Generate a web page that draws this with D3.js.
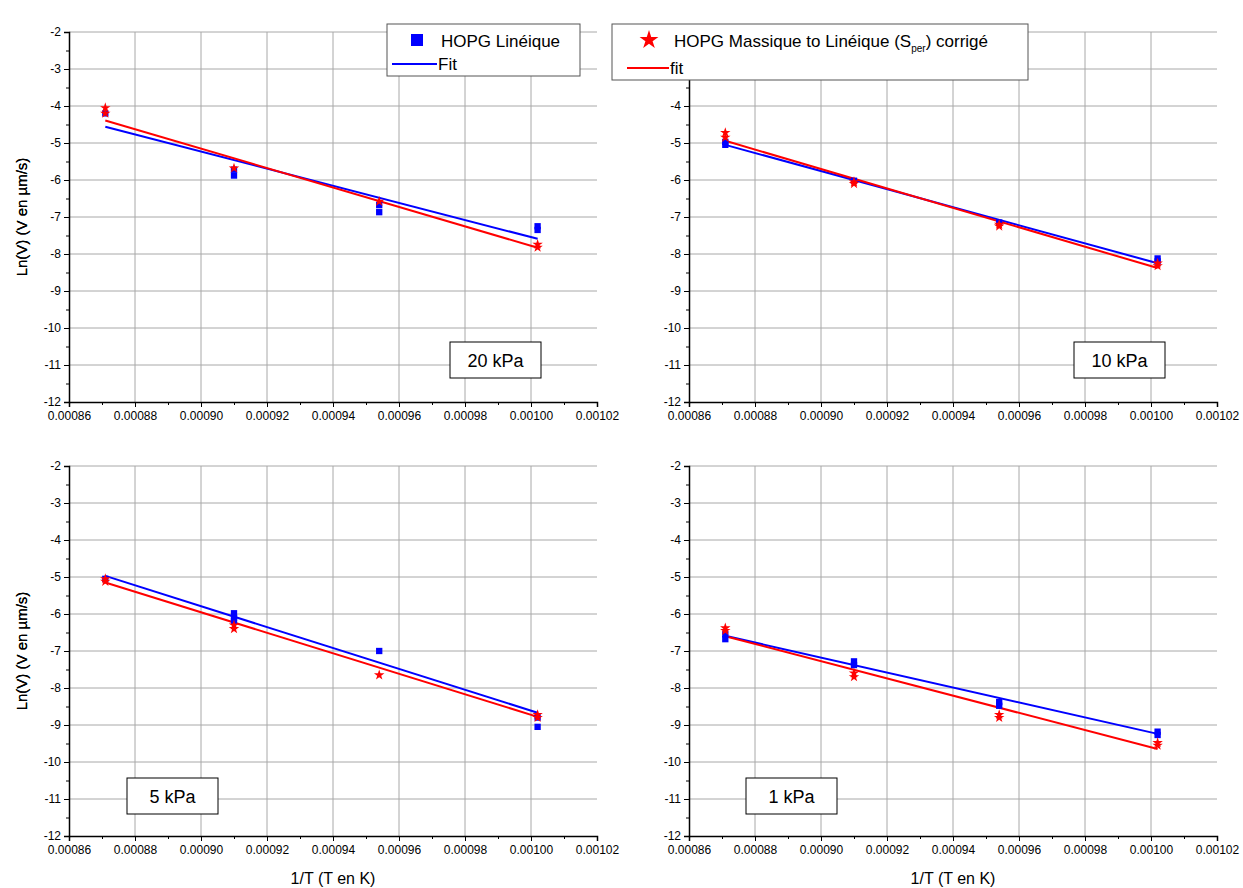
<!DOCTYPE html>
<html><head><meta charset="utf-8">
<script src="https://cdn.jsdelivr.net/npm/d3@7"></script>
<style>
body{margin:0;background:#fff;}
svg{font-family:"Liberation Sans",Arial,sans-serif;}
</style></head>
<body><svg id="c" width="1243" height="888"></svg>
<script>
// ---- data ----
const invT = [0.000871, 0.000910, 0.000954, 0.001002];
const panelLabels = ["20 kPa", "10 kPa", "5 kPa", "1 kPa"];
const xTicks = [0.00086, 0.00088, 0.00090, 0.00092, 0.00094, 0.00096, 0.00098, 0.00100, 0.00102];
const yTicks = [-2, -3, -4, -5, -6, -7, -8, -9, -10, -11, -12];
// HOPG Linéique (blue squares), several measurements per temperature
const lineique20 = [[-4.2], [-5.72, -5.88], [-6.68, -6.87], [-7.25, -7.35]];
const lineique10 = [[-4.97, -5.05], [-6.02], [-7.15], [-8.12, -8.2]];
const lineique5  = [[-5.05], [-5.98, -6.1, -6.2], [-7.0], [-8.8, -9.05]];
const lineique1  = [[-6.55, -6.68], [-7.28, -7.38], [-8.38, -8.48], [-9.18, -9.27]];
// HOPG Massique to Linéique (S_per) corrigé (red stars)
const massique20 = [[-4.05, -4.2], [-5.68], [-6.58], [-7.74, -7.82]];
const massique10 = [[-4.72, -4.85], [-6.05, -6.1], [-7.2, -7.25], [-8.25, -8.32]];
const massique5  = [[-5.05, -5.12], [-6.3, -6.4], [-7.65], [-8.72, -8.8]];
const massique1  = [[-6.38, -6.45], [-7.6, -7.7], [-8.72, -8.8], [-9.48, -9.55]];
// fit lines: value at first and last temperature
const fitLineique20 = [-4.56, -7.59];
const fitLineique10 = [-5.05, -8.25];
const fitLineique5  = [-4.97, -8.67];
const fitLineique1  = [-6.59, -9.24];
const fitMassique20 = [-4.39, -7.83];
const fitMassique10 = [-4.94, -8.38];
const fitMassique5  = [-5.15, -8.78];
const fitMassique1  = [-6.6, -9.65];

const blueSeries = [lineique20, lineique10, lineique5, lineique1];
const redSeries = [massique20, massique10, massique5, massique1];
const blueFits = [fitLineique20, fitLineique10, fitLineique5, fitLineique1];
const redFits = [fitMassique20, fitMassique10, fitMassique5, fitMassique1];

// ---- layout ----
const svg = d3.select("#c");
const BLUE = "#0000ff", RED = "#ff0000";
const boxes = [
  {x0: 69, x1: 597, y0: 32, y1: 402, lab: [450, 342], hide: []},
  {x0: 689, x1: 1217, y0: 32, y1: 402, lab: [1074, 342], hide: [-2, -3]},
  {x0: 69, x1: 597, y0: 466, y1: 836, lab: [127, 778], hide: []},
  {x0: 689, x1: 1217, y0: 466, y1: 836, lab: [746, 778], hide: []}
];
const fmt = d3.format(".5f");

boxes.forEach((b, i) => {
  const x = d3.scaleLinear().domain([0.00086, 0.00102]).range([b.x0, b.x1]);
  const y = d3.scaleLinear().domain([-12, -2]).range([b.y1, b.y0]);
  const g = svg.append("g");

  // grid
  g.append("g").selectAll("line").data(xTicks.slice(1, -1)).join("line")
    .attr("x1", d => x(d)).attr("x2", d => x(d)).attr("y1", b.y0).attr("y2", b.y1)
    .attr("stroke", "#a8a8a8").attr("stroke-width", 1);
  g.append("g").selectAll("line").data(yTicks.slice(0, -1)).join("line")
    .attr("x1", b.x0).attr("x2", b.x1).attr("y1", d => y(d)).attr("y2", d => y(d))
    .attr("stroke", "#a8a8a8").attr("stroke-width", 1);

  // axes
  const minorX = d3.range(0.00087, 0.00102, 0.00002);
  const minorY = d3.range(-11.5, -2, 1);
  const xa = g.append("g").attr("transform", `translate(0,${b.y1})`)
    .call(d3.axisBottom(x).tickValues(xTicks).tickFormat(fmt).tickSize(5).tickPadding(4));
  g.append("g").attr("transform", `translate(0,${b.y1})`)
    .call(d3.axisBottom(x).tickValues(minorX).tickFormat("").tickSize(3))
    .select(".domain").remove();
  const ya = g.append("g").attr("transform", `translate(${b.x0},0)`)
    .call(d3.axisLeft(y).tickValues(yTicks)
      .tickFormat(d => b.hide.includes(d) ? "" : String(d)).tickSize(5).tickPadding(3));
  g.append("g").attr("transform", `translate(${b.x0},0)`)
    .call(d3.axisLeft(y).tickValues(minorY).tickFormat("").tickSize(3))
    .select(".domain").remove();
  svg.selectAll(".domain").attr("stroke", "#000").attr("stroke-width", 1.5);
  xa.selectAll("text").attr("font-size", 12).attr("fill", "#000")
    .attr("font-family", "Liberation Sans, Arial, sans-serif");
  ya.selectAll("text").attr("font-size", 12).attr("fill", "#000")
    .attr("font-family", "Liberation Sans, Arial, sans-serif");
  g.selectAll(".tick line").attr("stroke", "#000");

  // fit lines
  const line = d3.line().x(d => x(d[0])).y(d => y(d[1]));
  const xEnds = [invT[0], invT[invT.length - 1]];
  g.append("path").datum(xEnds.map((v, k) => [v, blueFits[i][k]]))
    .attr("d", line).attr("fill", "none").attr("stroke", BLUE).attr("stroke-width", 2);
  g.append("path").datum(xEnds.map((v, k) => [v, redFits[i][k]]))
    .attr("d", line).attr("fill", "none").attr("stroke", RED).attr("stroke-width", 2);

  // markers
  const flat = s => s.flatMap((vals, k) => vals.map(v => [invT[k], v]));
  g.append("g").selectAll("path").data(flat(blueSeries[i])).join("path")
    .attr("transform", d => `translate(${x(d[0])},${y(d[1])})`)
    .attr("d", d3.symbol(d3.symbolSquare, 40)).attr("fill", BLUE);
  g.append("g").selectAll("path").data(flat(redSeries[i])).join("path")
    .attr("transform", d => `translate(${x(d[0])},${y(d[1])})`)
    .attr("d", d3.symbol(d3.symbolStar, 34)).attr("fill", RED);

  // pressure label
  const lg = g.append("g").attr("transform", `translate(${b.lab[0]},${b.lab[1]})`);
  lg.append("rect").attr("width", 91).attr("height", 36).attr("fill", "#fff")
    .attr("stroke", "#000").attr("stroke-width", 1);
  lg.append("text").attr("x", 45.5).attr("y", 25).attr("text-anchor", "middle")
    .attr("font-size", 18).text(panelLabels[i]);

  // axis titles
  g.append("text").attr("transform", `translate(27,${(b.y0 + b.y1) / 2}) rotate(-90)`)
    .attr("text-anchor", "middle").attr("font-size", 15).text("Ln(V) (V en µm/s)");
  if (i >= 2) {
    g.append("text").attr("x", (b.x0 + b.x1) / 2).attr("y", 884)
      .attr("text-anchor", "middle").attr("font-size", 16).text("1/T (T en K)");
  }
});

// legends
const l1 = svg.append("g");
l1.append("rect").attr("x", 387).attr("y", 24).attr("width", 193).attr("height", 52)
  .attr("fill", "#fff").attr("stroke", "#555").attr("stroke-width", 1);
l1.append("path").attr("transform", "translate(417,40)").attr("d", d3.symbol(d3.symbolSquare, 144)).attr("fill", BLUE);
l1.append("text").attr("x", 441).attr("y", 47).attr("font-size", 17).text("HOPG Linéique");
l1.append("line").attr("x1", 392).attr("x2", 437).attr("y1", 64).attr("y2", 64).attr("stroke", BLUE).attr("stroke-width", 2);
l1.append("text").attr("x", 438).attr("y", 70).attr("font-size", 17).text("Fit");

const l2 = svg.append("g");
l2.append("rect").attr("x", 612).attr("y", 24).attr("width", 416).attr("height", 56)
  .attr("fill", "#fff").attr("stroke", "#555").attr("stroke-width", 1);
l2.append("path").attr("transform", "translate(649,40)").attr("d", d3.symbol(d3.symbolStar, 110)).attr("fill", RED);
const t2 = l2.append("text").attr("x", 674).attr("y", 47).attr("font-size", 17);
t2.append("tspan").text("HOPG Massique to Linéique (S");
t2.append("tspan").attr("font-size", 10).attr("dy", 5).text("per");
t2.append("tspan").attr("dy", -5).text(") corrigé");
l2.append("line").attr("x1", 627).attr("x2", 669).attr("y1", 68).attr("y2", 68).attr("stroke", RED).attr("stroke-width", 2);
l2.append("text").attr("x", 670).attr("y", 74).attr("font-size", 17).text("fit");
</script></body></html>
